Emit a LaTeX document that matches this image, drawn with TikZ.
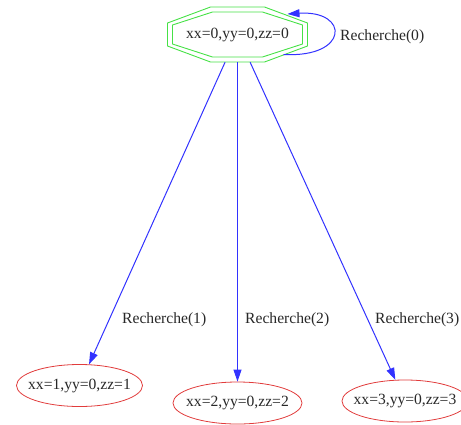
\documentclass[tikz,border=0pt]{standalone}
\usepackage{fontspec}
\setmainfont{Liberation Serif}
\usetikzlibrary{shapes.geometric,arrows.meta,calc}

\definecolor{octgreen}{RGB}{70,225,70}
\definecolor{edgeblue}{RGB}{50,50,255}
\definecolor{ellred}{RGB}{225,60,60}
\definecolor{txt}{RGB}{40,40,40}

\tikzset{
  every node/.style={font=\fontsize{15.6}{18}\selectfont, text=txt},
  octline/.style={draw=octgreen, line width=0.9pt, line join=miter},
  stateell/.style={ellipse, draw=ellred, line width=0.8pt, inner sep=0pt,
                   minimum width=126pt, minimum height=42pt},
  statetxt/.style={inner sep=0pt},
  edge/.style={draw=edgeblue, line width=1pt,
               -{Triangle[length=12pt,width=8pt]}},
  elabel/.style={inner sep=0pt, anchor=base west},
}

\begin{document}
\begin{tikzpicture}[x=1pt,y=-1pt]
  \useasboundingbox (0,0) rectangle (461,424);

  % start state: double octagon
  \node[inner sep=0pt, minimum width=140pt, minimum height=55pt] (n0) at (237.5,34.5) {xx=0,yy=0,zz=0};
  \begin{scope}[shift={(n0.center)}]
    \draw[octline] (-27,-27.5) -- (27,-27.5) -- (70,-11.5) -- (70,11.5)
                   -- (27,27.5) -- (-27,27.5) -- (-70,11.5) -- (-70,-11.5) -- cycle;
    \draw[octline] (-25,-22.5) -- (25,-22.5) -- (65,-9.5) -- (65,9.5)
                   -- (25,22.5) -- (-25,22.5) -- (-65,9.5) -- (-65,-9.5) -- cycle;
  \end{scope}

  % successor states
  \node[stateell] (n1) at (79.5,385.5) {};
  \node[statetxt] (t1) at (n1.center) {xx=1,yy=0,zz=1};
  \node[stateell, minimum width=129pt] (n2) at (237.5,403) {};
  \node[statetxt] (t2) at (n2.center) {xx=2,yy=0,zz=2};
  \node[stateell] (n3) at (405,401) {};
  \node[statetxt] (t3) at (n3.center) {xx=3,yy=0,zz=3};

  % transitions
  \coordinate (lpa) at ($(n0.center)+(46,20)$);
  \coordinate (lpb) at ($(n0.center)+(50,-20.5)$);
  \draw[edge] (lpa) .. controls ($(n0.center)+(112,23.5)$) and ($(n0.center)+(112,-24.5)$) .. (lpb);
  \draw[edge] (n0) -- (n1);
  \draw[edge] (n0) -- (n2);
  \draw[edge] (n0) -- (n3);

  % transition labels
  \node[elabel] (r0) at (340,40) {Recherche(0)};
  \node[elabel] (r1) at (122,323) {Recherche(1)};
  \node[elabel] (r2) at (245,323) {Recherche(2)};
  \node[elabel] (r3) at (375,323) {Recherche(3)};
\end{tikzpicture}
\end{document}
